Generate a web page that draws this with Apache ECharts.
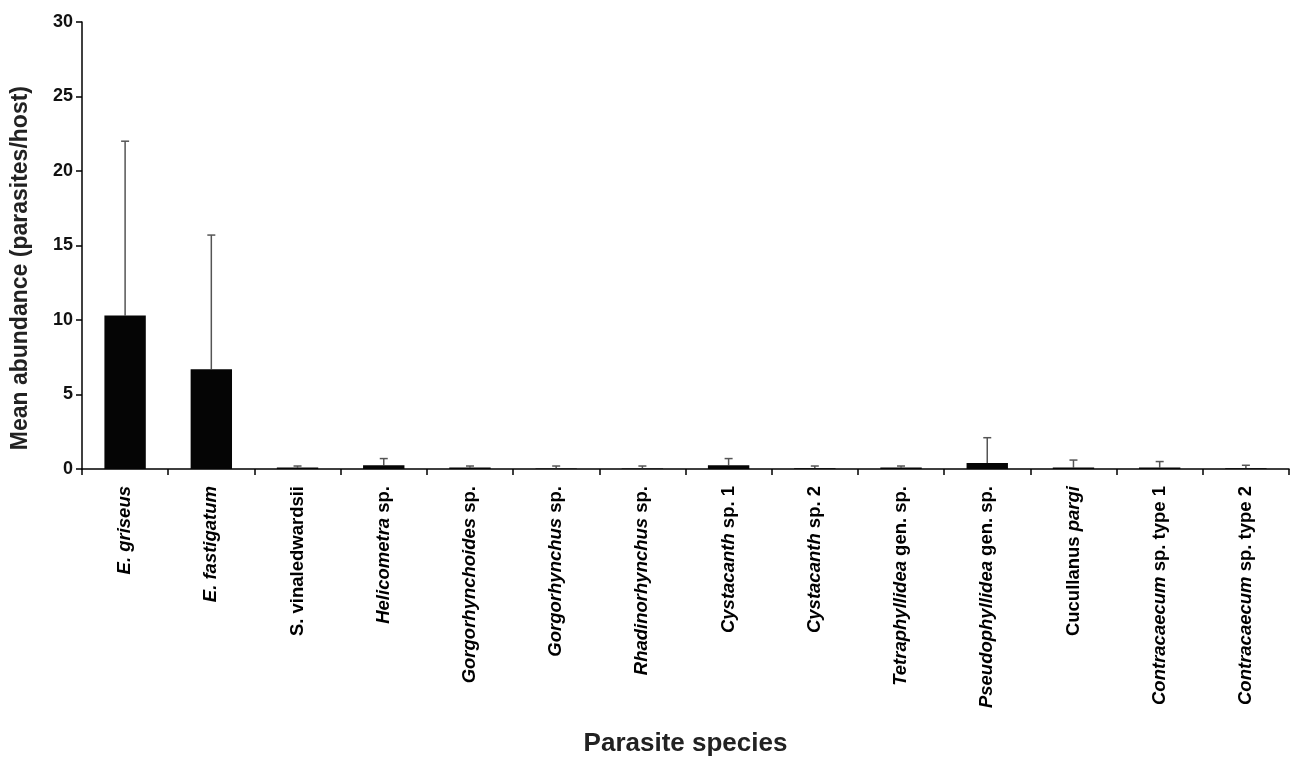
<!DOCTYPE html>
<html><head><meta charset="utf-8">
<script src="https://cdn.jsdelivr.net/npm/echarts@6/dist/echarts.min.js"></script>
<style>html,body{margin:0;padding:0;background:#fff;overflow:hidden}#c{width:1292px;height:759px}</style>
</head><body><div id="c"></div>
<script>
var categories = ['E. griseus','E. fastigatum','S. vinaledwardsii','Helicometra sp.','Gorgorhynchoides sp.','Gorgorhynchus sp.','Rhadinorhynchus sp.','Cystacanth sp. 1','Cystacanth sp. 2','Tetraphyllidea gen. sp.','Pseudophyllidea gen. sp.','Cucullanus pargi','Contracaecum sp. type 1','Contracaecum sp. type 2'];
var labelRich = ['{i|E. griseus}','{i|E. fastigatum}','{n|S. vinaledwardsii}','{i|Helicometra}{n| sp.}','{i|Gorgorhynchoides}{n| sp.}','{i|Gorgorhynchus}{n| sp.}','{i|Rhadinorhynchus}{n| sp.}','{i|Cystacanth}{n| sp. 1}','{i|Cystacanth}{n| sp. 2}','{i|Tetraphyllidea}{n| gen. sp.}','{i|Pseudophyllidea}{n| gen. sp.}','{n|Cucullanus }{i|pargi}','{i|Contracaecum}{n| sp. type 1}','{i|Contracaecum}{n| sp. type 2}'];
var meanAbundance = [10.3, 6.7, 0.1, 0.25, 0.1, 0.03, 0.03, 0.25, 0.05, 0.1, 0.4, 0.1, 0.1, 0.05];
var errorUpper = [22.0, 15.7, 0.2, 0.7, 0.2, 0.2, 0.2, 0.7, 0.2, 0.2, 2.1, 0.6, 0.5, 0.25];
var yTicks = [0, 5, 10, 15, 20, 25, 30];

var FONT = '"Liberation Sans",Arial,sans-serif';
var chart = echarts.init(document.getElementById('c'));
var errData = categories.map(function(c, i){ return [i, meanAbundance[i], errorUpper[i]]; });

chart.setOption({
  animation: false,
  grid: {left: 82, top: 22, width: 1207, height: 447, containLabel: false, outerBoundsMode: 'none'},
  graphic: [{
    type: 'text', left: 9, top: 86, rotation: Math.PI/2,
    style: {text: 'Mean abundance (parasites/host)', font: 'bold 23px ' + FONT, fill: '#222'}
  }],
  xAxis: {
    type: 'category', data: categories,
    name: 'Parasite species', nameLocation: 'middle', nameGap: 262,
    nameTextStyle: {fontFamily: FONT, fontWeight: 'bold', fontSize: 26, color: '#222'},
    axisLine: {lineStyle: {color: '#000', width: 1.5}},
    axisTick: {show: true, length: 6, lineStyle: {color: '#000', width: 1.5}},
    axisLabel: {
      rotate: 90, interval: 0, margin: 17, hideOverlap: false,
      formatter: function(v, i){ return labelRich[i]; },
      rich: {
        i: {fontFamily: FONT, fontWeight: 'bold', fontStyle: 'italic', fontSize: 18.5, color: '#000'},
        n: {fontFamily: FONT, fontWeight: 'bold', fontSize: 18.5, color: '#000'}
      }
    }
  },
  yAxis: {
    type: 'value', min: 0, max: 30, interval: 5,
    splitLine: {show: false},
    axisLine: {show: true, lineStyle: {color: '#000', width: 1.5}},
    axisTick: {show: true, length: 6, lineStyle: {color: '#000', width: 1.5}},
    axisLabel: {fontFamily: FONT, fontWeight: 'bold', fontSize: 18, color: '#111', margin: 9,
      formatter: function(v){ return yTicks.indexOf(v) >= 0 ? String(v) : ''; }}
  },
  series: [{
    type: 'bar', data: meanAbundance, barWidth: '48%',
    itemStyle: {color: '#050505'}
  }, {
    type: 'custom', data: errData, z: 1,
    renderItem: function(params, api){
      var x = api.value(0);
      var p0 = api.coord([x, api.value(1)]);
      var p1 = api.coord([x, api.value(2)]);
      var hw = 4;
      var st = {stroke: '#555', lineWidth: 1.5};
      return {type: 'group', children: [
        {type: 'line', shape: {x1: p0[0], y1: p0[1], x2: p1[0], y2: p1[1]}, style: st},
        {type: 'line', shape: {x1: p1[0]-hw, y1: p1[1], x2: p1[0]+hw, y2: p1[1]}, style: st}
      ]};
    }
  }]
});
</script></body></html>
